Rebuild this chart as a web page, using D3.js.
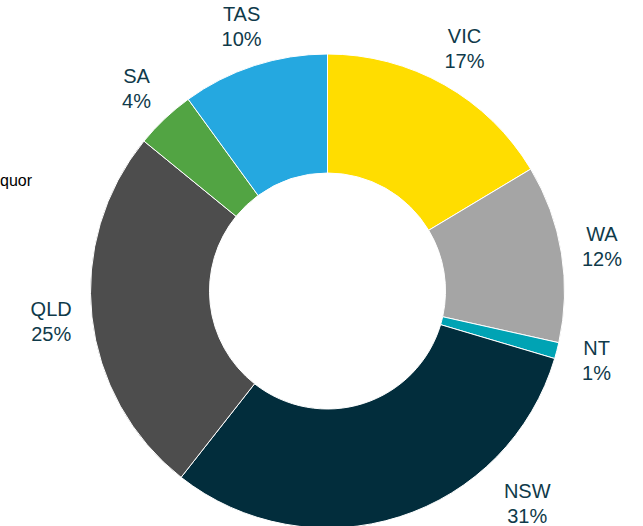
<!DOCTYPE html>
<html>
<head>
<meta charset="utf-8">
<script src="https://cdn.jsdelivr.net/npm/d3@7"></script>
<style>
  body { margin: 0; background: #fff; }
  svg text { font-family: "Liberation Sans", Arial, sans-serif; }
</style>
</head>
<body>
<div id="container"></div>
<script>
/* DATA */
const states = ["VIC", "WA", "NT", "NSW", "QLD", "SA", "TAS"];
const shares = [16.4, 12.1, 1.1, 31.0, 25.3, 4.1, 10.0];   // slice sizes
const shareLabels = ["17%", "12%", "1%", "31%", "25%", "4%", "10%"];
const colours = ["#FFDD00", "#A5A5A5", "#00A3B4", "#022D3C", "#4D4D4D", "#52A443", "#25A8E0"];

/* CONSTANTS */
const width = 643, height = 526;
const cx = 327.5, cy = 291;
const outer = 237, inner = 118, labelR = 278;

const data = states.map((s, i) => ({ state: s, value: shares[i], label: shareLabels[i], colour: colours[i] }));

const svg = d3.select("#container").append("svg")
  .attr("width", width)
  .attr("height", height);

const pie = d3.pie().sort(null).value(d => d.value);
const arc = d3.arc().innerRadius(inner).outerRadius(outer);
const arcs = pie(data);

const g = svg.append("g").attr("transform", `translate(${cx},${cy})`);

g.selectAll("path")
  .data(arcs)
  .join("path")
  .attr("d", arc)
  .attr("fill", d => d.data.colour)
  .attr("stroke", "#fff")
  .attr("stroke-width", 1);

// label centres on a circle round the ring, slid up along a circle if off the bottom
function labelPos(d) {
  const a = (d.startAngle + d.endAngle) / 2;
  let x = Math.sin(a) * labelR, y = -Math.cos(a) * labelR;
  const maxY = height - 22 - cy;
  if (y > maxY) {
    const r = labelR + 14;
    y = maxY;
    x = Math.sign(x || 1) * Math.sqrt(r * r - y * y);
  }
  return [x, y];
}

const labels = g.selectAll("text.lbl")
  .data(arcs)
  .join("text")
  .attr("class", "lbl")
  .attr("text-anchor", "middle")
  .attr("font-size", 20)
  .attr("fill", "#0F3A4A")
  .attr("transform", d => `translate(${labelPos(d)})`);

labels.append("tspan").attr("x", 0).attr("y", -6).text(d => d.data.state);
labels.append("tspan").attr("x", 0).attr("y", 19).text(d => d.data.label);

// clipped legend text at the left edge
svg.append("text")
  .attr("x", 0)
  .attr("y", 186)
  .attr("font-size", 16)
  .attr("fill", "#000")
  .text("quor");
</script>
</body>
</html>
